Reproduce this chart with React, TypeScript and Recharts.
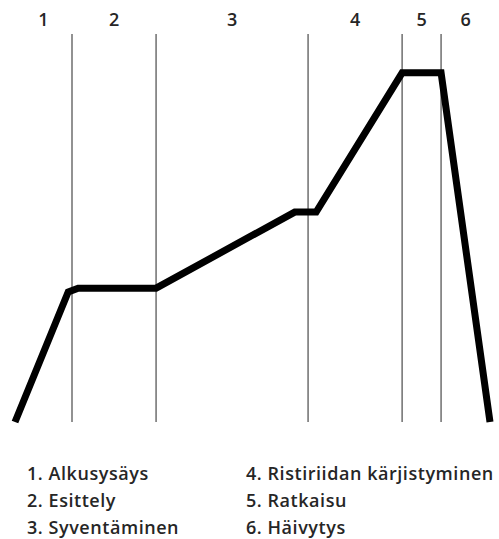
import React from "react";
import { LineChart, Line, XAxis, YAxis, ReferenceLine } from "recharts";

// Story arc: x = progress through the story (0-100), y = tension (0-100)
const progress = [0, 11.2, 13.3, 29.7, 58.9, 63.4, 81.5, 89.7, 100];
const tension = [0, 33.5, 34.5, 34.5, 54.1, 54.1, 90, 90, 0];

// Phase boundaries (progress values) and phase labels
const phaseBoundaries = [12.0, 29.7, 61.7, 81.5, 89.7];
const phaseNumbers = ["1", "2", "3", "4", "5", "6"];
const phaseNames = [
  "Alkusysäys",
  "Esittely",
  "Syventäminen",
  "Ristiriidan kärjistyminen",
  "Ratkaisu",
  "Häivytys",
];

const data = progress.map((p, i) => ({ x: p, y: tension[i] }));
const edges = [0, ...phaseBoundaries, 100];
const phaseCenters = phaseNumbers.map((_, i) => (edges[i] + edges[i + 1]) / 2);

const FONT = "'Open Sans', Lato, sans-serif";

export default function App() {
  const legendCol = (start: number, left: number) => (
    <div
      style={{
        position: "absolute",
        left,
        top: 460,
        fontFamily: FONT,
        fontSize: 18,
        fontWeight: 600,
        letterSpacing: 0.55,
        lineHeight: "27px",
        color: "#262626",
        whiteSpace: "nowrap",
      }}
    >
      {phaseNames.slice(start, start + 3).map((n, i) => (
        <div key={n}>{`${phaseNumbers[start + i]}. ${n}`}</div>
      ))}
    </div>
  );
  return (
    <div style={{ position: "relative", width: 499, height: 539, background: "#fff" }}>
      <style>{`body{margin:0}`}</style>
      <LineChart
        width={499}
        height={440}
        data={data}
        margin={{ top: 4, right: 9, bottom: 18, left: 15 }}
      >
        <XAxis
          xAxisId={0}
          dataKey="x"
          type="number"
          domain={[0, 100]}
          orientation="top"
          height={30}
          ticks={phaseCenters}
          tickFormatter={(v: number) => phaseNumbers[phaseCenters.indexOf(v)] ?? ""}
          axisLine={false}
          tickLine={false}
          interval={0}
          tick={{ fontFamily: FONT, fontSize: 18, fontWeight: 600, fill: "#262626" }}
        />
        <YAxis yAxisId={0} type="number" domain={[0, 100]} hide />
        {phaseBoundaries.map((b) => (
          <ReferenceLine key={b} x={b} stroke="#6e6e6e" strokeWidth={1.5} />
        ))}
        <Line
          type="linear"
          dataKey="y"
          stroke="#000"
          strokeWidth={7}
          dot={false}
          activeDot={false}
          isAnimationActive={false}
          strokeLinejoin="miter"
        />
      </LineChart>
      {legendCol(0, 27)}
      {legendCol(3, 246)}
    </div>
  );
}
